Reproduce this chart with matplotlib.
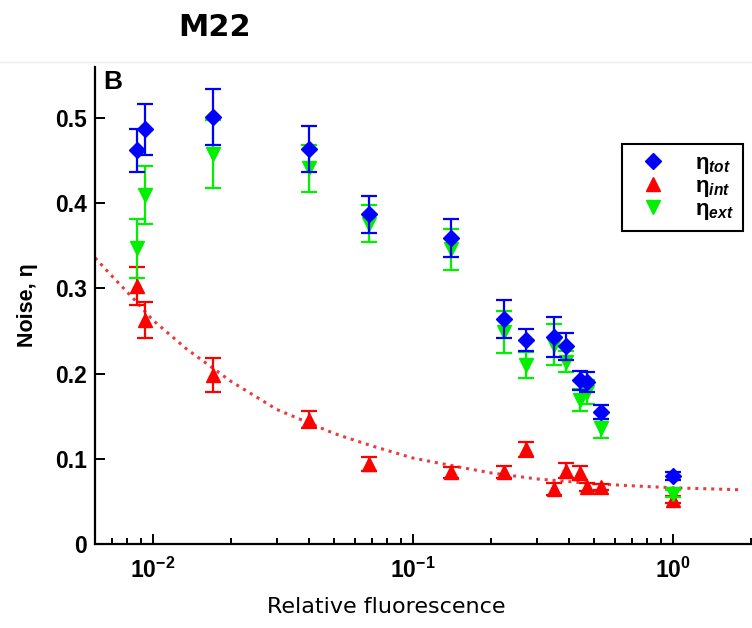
import numpy as np
import matplotlib
matplotlib.use("Agg")
import matplotlib.pyplot as plt
from matplotlib.lines import Line2D

plt.rcParams['font.family'] = ['Liberation Sans', 'DejaVu Sans']
plt.rcParams['mathtext.fontset'] = 'custom'
plt.rcParams['mathtext.rm'] = 'Liberation Sans:bold'
plt.rcParams['mathtext.it'] = 'Liberation Sans:italic:bold'

# relative fluorescence of each strain
fluor = [0.00873, 0.00935, 0.0170, 0.040, 0.068, 0.141, 0.225, 0.274,
         0.351, 0.388, 0.44, 0.467, 0.53, 1.0]

eta_tot = [0.462, 0.487, 0.501, 0.464, 0.387, 0.359, 0.264, 0.239,
           0.243, 0.232, 0.192, 0.190, 0.155, 0.080]
err_tot = [0.025, 0.030, 0.033, 0.027, 0.022, 0.022, 0.022, 0.013,
           0.023, 0.016, 0.011, 0.012, 0.008, 0.005]

eta_int = [0.303, 0.263, 0.198, 0.146, 0.094, 0.084, 0.084, 0.111,
           0.065, 0.086, 0.083, 0.067, 0.067, 0.052]
err_int = [0.022, 0.021, 0.020, 0.010, 0.008, 0.006, 0.007, 0.009,
           0.007, 0.009, 0.008, 0.005, 0.004, 0.004]

eta_ext = [0.347, 0.410, 0.458, 0.441, 0.376, 0.346, 0.249, 0.210,
           0.234, 0.214, 0.169, 0.178, 0.136, 0.059]
err_ext = [0.035, 0.034, 0.040, 0.028, 0.022, 0.024, 0.025, 0.015,
           0.024, 0.012, 0.013, 0.014, 0.011, 0.004]

# dotted fit to intrinsic noise
fit_x = [0.006, 0.007, 0.0085, 0.01, 0.0135, 0.02, 0.03, 0.05, 0.07,
         0.1, 0.15, 0.2, 0.3, 0.5, 0.7, 1.0, 1.4, 1.8]
fit_y = [0.336, 0.314, 0.287, 0.263, 0.229, 0.191, 0.158, 0.1296, 0.115,
         0.101, 0.0905, 0.0835, 0.0764, 0.0708, 0.0683, 0.066, 0.0647, 0.0637]

fig = plt.figure(figsize=(7.52, 6.28), dpi=100)
ax = fig.add_axes([95/752, 1-544/628, 657/752, (544-67)/628])

ax.plot(fit_x, fit_y, linestyle=(0, (1, 1.6)), color='#ea3c3c', lw=2.2, zorder=1)

kw = dict(linestyle='none', elinewidth=1.6, capsize=5.5, capthick=1.6)
ax.errorbar(fluor, eta_int, yerr=err_int, fmt='^', color='#ff0000', ms=10.5, zorder=3, **kw)
ax.errorbar(fluor, eta_ext, yerr=err_ext, fmt='v', color='#00f000', ms=10.5, zorder=4, **kw)
ax.errorbar(fluor, eta_tot, yerr=err_tot, fmt='D', color='#0000ff', ms=8.5, zorder=5, **kw)

ax.set_xscale('log')
ax.set_xlim(0.0060, 2.02)
ax.set_ylim(0, 0.56)
ax.set_yticks([0, 0.1, 0.2, 0.3, 0.4, 0.5])
ax.set_yticklabels(['0', '0.1', '0.2', '0.3', '0.4', '0.5'])
ax.spines['top'].set_visible(False)
ax.spines['right'].set_visible(False)
for s in ['left', 'bottom']:
    ax.spines[s].set_linewidth(1.6)
ax.tick_params(which='both', direction='in', width=1.4, labelsize=16.5)
ax.tick_params(axis='y', pad=6)
ax.tick_params(axis='x', pad=10)
ax.tick_params(which='major', length=7)
ax.tick_params(which='minor', length=4)
for lab in ax.get_xticklabels() + ax.get_yticklabels():
    lab.set_fontweight('bold')

ax.set_ylabel('Noise, η', fontsize=15.5, fontweight='bold', labelpad=12)
ax.text(0.013, 0.557, 'B', transform=ax.get_yaxis_transform(),
        fontsize=19, fontweight='bold', va='top', ha='left')

handles = [
    Line2D([], [], marker='D', color='#0000ff', linestyle='none', ms=8),
    Line2D([], [], marker='^', color='#ff0000', linestyle='none', ms=10),
    Line2D([], [], marker='v', color='#00f000', linestyle='none', ms=10),
]
labels = ['η$_{tot}$', 'η$_{int}$', 'η$_{ext}$']
leg = ax.legend(handles, labels, loc='upper right', bbox_to_anchor=(743/752, 1-144/628),
                bbox_transform=fig.transFigure, borderaxespad=0, fancybox=False,
                framealpha=1, edgecolor='black', handletextpad=0.9, borderpad=0.4,
                labelspacing=0.0, handlelength=2.0, prop={'weight': 'bold', 'size': 16})
leg.get_frame().set_linewidth(1.5)

fig.text(386/752, 1-607/628, 'Relative fluorescence', fontsize=16,
         family='DejaVu Sans', ha='center', va='center')
fig.text(215/752, 1-27/628, 'M22', fontsize=22, family='DejaVu Sans',
         fontweight='bold', ha='center', va='center')
fig.add_artist(Line2D([0, 1], [1-62/628, 1-62/628], transform=fig.transFigure,
                      color='#eeeeee', lw=1))

fig.savefig('out.png', dpi=100)
